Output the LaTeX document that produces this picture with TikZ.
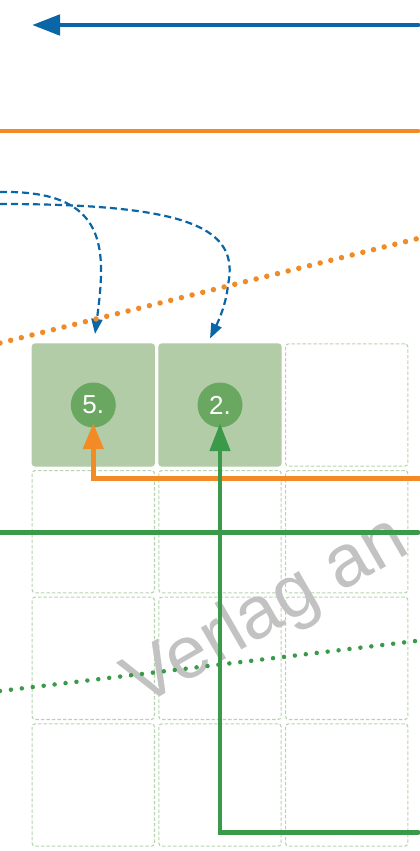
\documentclass[tikz,border=0pt]{standalone}
\usepackage{fontspec}
\setmainfont{Liberation Sans}
\usetikzlibrary{arrows.meta}
\definecolor{cblue}{HTML}{0A66A6}
\definecolor{corange}{HTML}{F28A25}
\definecolor{cgreen}{HTML}{3A9A4A}
\definecolor{ccircle}{HTML}{6AA862}
\definecolor{cfill}{HTML}{B2CCA8}
\definecolor{cborder}{HTML}{B5D3AD}
\definecolor{cgrey}{HTML}{C2C2C2}
\begin{document}
\begin{tikzpicture}[x=1pt,y=-1pt,
  cell/.style={draw=cborder, line width=1.1pt, dash pattern=on 3.5pt off 2pt, rounded corners=3pt,
    minimum width=122.3pt, minimum height=122.3pt, inner sep=0pt},
  cellfill/.style={fill=cfill, draw=cfill, line width=1pt, rounded corners=3pt,
    minimum width=122.3pt, minimum height=122.3pt, inner sep=0pt},
  num/.style={circle, fill=ccircle, minimum size=45pt, inner sep=0pt, text=white,
    font=\fontsize{26}{26}\selectfont},
  solidline/.style={line width=4.8pt, line cap=round},
  bigtip/.style={-{Triangle[length=28pt,width=20pt]}},
  dashblue/.style={cblue, line width=2.2pt, dash pattern=on 7pt off 4pt,
    -{Triangle[length=15pt,width=11pt]}},
  dotline/.style={line cap=round, dash pattern=on 0pt off 11pt}
]
\useasboundingbox (0,0) rectangle (420,851);

% grid of cells
\foreach \c/\x in {1/93.3,2/220,3/346.7}{
  \foreach \r/\y in {2/531.7,3/658.3,4/785}{
    \node[cell] (c\r\c) at (\x,\y) {};
  }
}
\node[cellfill] (c11) at (93.3,405) {};
\node[cellfill] (c12) at (220,405) {};
\node[cell] (c13) at (346.7,405) {};

% watermark
\node[text=cgrey, rotate=30, anchor=base west, inner sep=0pt,
  font=\fontsize{74}{74}\selectfont] (wm) at (141,708) {Verlag an};

% circles
\node[num] (n5) at (93.3,405) {5.};
\node[num] (n2) at (220,405) {2.};

% top blue arrow
\coordinate (bstart) at (418,25);
\coordinate (bend) at (32,25);
\draw[cblue, solidline, bigtip] (bstart) -- (bend);

% orange solid line
\coordinate (ol1) at (0,131);
\coordinate (ol2) at (418,131);
\draw[corange, solidline] (ol1) -- (ol2);

% blue dashed curves
\coordinate (da0) at (0,192);
\coordinate (da1) at (95,334);
\coordinate (db0) at (0,204);
\coordinate (db1) at (228,285);
\coordinate (db2) at (210,338.5);
\draw[dashblue] (da0) .. controls (110,190) and (106,250) .. (da1);
\draw[dashblue] (db0) .. controls (190,204) and (240,228) .. (db1)
  .. controls (226,305) and (218,322) .. (db2);

% orange dotted line
\coordinate (od0) at (0,343);
\coordinate (od1) at (420,238);
\draw[corange, line width=5.5pt, dotline] (od0) -- (od1);

% green horizontal line
\coordinate (gh0) at (0,532.7);
\coordinate (gh1) at (418,532.7);
\draw[cgreen, solidline] (gh0) -- (gh1);

% green dotted line
\coordinate (gd0) at (0,691);
\coordinate (gd1) at (420,640.5);
\draw[cgreen, line width=4.5pt, dotline] (gd0) -- (gd1);

% orange L arrow to 5.
\coordinate (oa0) at (422,478.3);
\draw[corange, line width=4.8pt, -{Triangle[length=26pt,width=20pt]}]
  (oa0) -| ([yshift=4.5pt]n5.south);

% green L arrow to 2.
\coordinate (ga0) at (418,832.7);
\draw[cgreen, line width=4.8pt, line cap=round, bigtip]
  (ga0) -| ([yshift=4.5pt]n2.south);
\end{tikzpicture}
\end{document}
